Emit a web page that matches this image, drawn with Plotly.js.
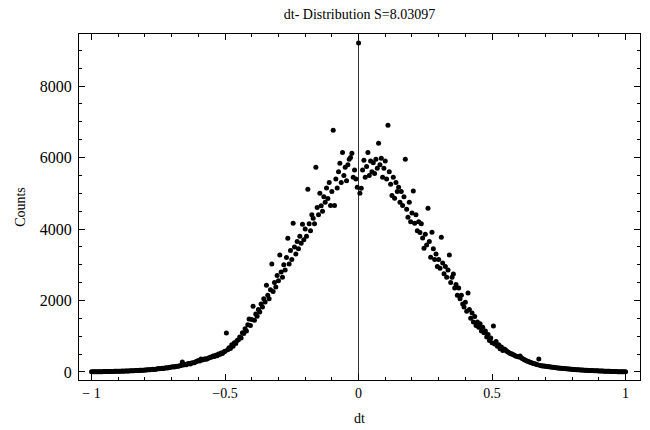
<!DOCTYPE html>
<html>
<head>
<meta charset="utf-8">
<script src="https://cdn.plot.ly/plotly-3.0.1.min.js"></script>
<style>html,body{margin:0;padding:0;background:#fff;}#chart{width:650px;height:430px;}</style>
</head>
<body>
<div id="chart"></div>
<script>
var dtBins = [
-1,-0.995,-0.99,-0.985,-0.98,-0.975,-0.97,-0.965,-0.96,-0.955,
-0.95,-0.945,-0.94,-0.935,-0.93,-0.925,-0.92,-0.915,-0.91,-0.905,
-0.9,-0.895,-0.89,-0.885,-0.88,-0.875,-0.87,-0.865,-0.86,-0.855,
-0.85,-0.845,-0.84,-0.835,-0.83,-0.825,-0.82,-0.815,-0.81,-0.805,
-0.8,-0.795,-0.79,-0.785,-0.78,-0.775,-0.77,-0.765,-0.76,-0.755,
-0.75,-0.745,-0.74,-0.735,-0.73,-0.725,-0.72,-0.715,-0.71,-0.705,
-0.7,-0.695,-0.69,-0.685,-0.68,-0.675,-0.67,-0.665,-0.66,-0.655,
-0.65,-0.645,-0.64,-0.635,-0.63,-0.625,-0.62,-0.615,-0.61,-0.605,
-0.6,-0.595,-0.59,-0.585,-0.58,-0.575,-0.57,-0.565,-0.56,-0.555,
-0.55,-0.545,-0.54,-0.535,-0.53,-0.525,-0.52,-0.515,-0.51,-0.505,
-0.5,-0.495,-0.49,-0.485,-0.48,-0.475,-0.47,-0.465,-0.46,-0.455,
-0.45,-0.445,-0.44,-0.435,-0.43,-0.425,-0.42,-0.415,-0.41,-0.405,
-0.4,-0.395,-0.39,-0.385,-0.38,-0.375,-0.37,-0.365,-0.36,-0.355,
-0.35,-0.345,-0.34,-0.335,-0.33,-0.325,-0.32,-0.315,-0.31,-0.305,
-0.3,-0.295,-0.29,-0.285,-0.28,-0.275,-0.27,-0.265,-0.26,-0.255,
-0.25,-0.245,-0.24,-0.235,-0.23,-0.225,-0.22,-0.215,-0.21,-0.205,
-0.2,-0.195,-0.19,-0.185,-0.18,-0.175,-0.17,-0.165,-0.16,-0.155,
-0.15,-0.145,-0.14,-0.135,-0.13,-0.125,-0.12,-0.115,-0.11,-0.105,
-0.1,-0.095,-0.09,-0.085,-0.08,-0.075,-0.07,-0.065,-0.06,-0.055,
-0.05,-0.045,-0.04,-0.035,-0.03,-0.025,-0.02,-0.015,-0.01,-0.005,
0,0.005,0.01,0.015,0.02,0.025,0.03,0.035,0.04,0.045,
0.05,0.055,0.06,0.065,0.07,0.075,0.08,0.085,0.09,0.095,
0.1,0.105,0.11,0.115,0.12,0.125,0.13,0.135,0.14,0.145,
0.15,0.155,0.16,0.165,0.17,0.175,0.18,0.185,0.19,0.195,
0.2,0.205,0.21,0.215,0.22,0.225,0.23,0.235,0.24,0.245,
0.25,0.255,0.26,0.265,0.27,0.275,0.28,0.285,0.29,0.295,
0.3,0.305,0.31,0.315,0.32,0.325,0.33,0.335,0.34,0.345,
0.35,0.355,0.36,0.365,0.37,0.375,0.38,0.385,0.39,0.395,
0.4,0.405,0.41,0.415,0.42,0.425,0.43,0.435,0.44,0.445,
0.45,0.455,0.46,0.465,0.47,0.475,0.48,0.485,0.49,0.495,
0.5,0.505,0.51,0.515,0.52,0.525,0.53,0.535,0.54,0.545,
0.55,0.555,0.56,0.565,0.57,0.575,0.58,0.585,0.59,0.595,
0.6,0.605,0.61,0.615,0.62,0.625,0.63,0.635,0.64,0.645,
0.65,0.655,0.66,0.665,0.67,0.675,0.68,0.685,0.69,0.695,
0.7,0.705,0.71,0.715,0.72,0.725,0.73,0.735,0.74,0.745,
0.75,0.755,0.76,0.765,0.77,0.775,0.78,0.785,0.79,0.795,
0.8,0.805,0.81,0.815,0.82,0.825,0.83,0.835,0.84,0.845,
0.85,0.855,0.86,0.865,0.87,0.875,0.88,0.885,0.89,0.895,
0.9,0.905,0.91,0.915,0.92,0.925,0.93,0.935,0.94,0.945,
0.95,0.955,0.96,0.965,0.97,0.975,0.98,0.985,0.99,0.995,
1
];

var dtCounts = [
5,6,4,7,8,6,9,8,10,11,
12,11,14,13,15,17,16,18,19,20,
20,22,21,25,24,27,28,30,31,33,
35,37,36,41,40,44,47,46,50,52,
55,58,61,60,66,68,74,72,80,86,
95,90,100,104,98,112,118,115,126,134,
140,146,138,155,162,158,175,182,280,195,
210,205,228,236,226,250,262,258,285,300,
320,310,360,335,350,372,358,380,395,410,
420,445,430,470,455,500,490,530,520,560,
580,1090,620,680,660,760,720,820,800,880,
900,980,950,1100,1080,1210,1150,1320,1480,1300,
1470,1840,1450,1620,1560,1750,1680,1900,1820,2050,
1960,2430,2150,2050,2300,3020,2250,2500,2380,2700,
2550,3270,2800,2650,3000,2850,3200,3740,3020,3400,
3150,4160,3500,3300,3650,3450,3800,3600,4130,3700,
4000,3800,5110,4150,3950,4400,4300,4150,5730,4600,
4400,5000,4650,4500,4900,4750,5150,4850,5300,4660,
5050,6760,4660,5400,5150,5600,5840,5300,6140,5500,
5730,5350,5800,5950,6000,6120,5450,5650,5400,5170,
9200,5000,5140,5650,5920,5450,5750,6140,5500,5900,
5600,5850,5550,5950,5700,6400,5800,5980,5450,5700,
5900,5400,6900,5600,5250,4940,5450,4860,5300,5050,
5170,4750,5050,4660,4900,5950,4550,4330,4750,4200,
4450,5060,4160,4400,3950,4200,3900,4150,3750,3460,
3850,3550,4580,3650,3210,3910,3450,3150,3300,2950,
3150,2900,3770,3050,2750,2950,2650,2850,3270,2500,
2650,2740,2350,2450,2150,2350,2050,2150,1900,1820,
1950,1700,2210,1750,1500,1650,1400,1550,1300,1400,
1250,1350,1150,1250,1100,1150,980,1050,880,950,
820,1290,780,850,720,760,650,700,600,640,
620,580,560,530,510,500,480,460,440,430,
420,450,390,370,350,330,310,300,280,265,
250,240,230,215,205,360,185,175,170,165,
160,155,150,145,140,136,130,126,120,115,
110,106,103,100,96,92,90,86,82,78,
75,72,70,66,64,60,58,56,53,52,
50,48,45,44,42,40,38,36,34,32,
30,28,27,25,24,22,21,19,18,16,
15,14,12,11,10,9,8,7,6,6,
5
];

var xTickVals = [-1, -0.5, 0, 0.5, 1];
var xTickText = ['\u2212 1', '\u22120.5', '0', '0.5', '1'];
var yTickVals = [0, 2000, 4000, 6000, 8000];
var yTickText = ['0', '2000', '4000', '6000', '8000'];

var serif = 'Liberation Serif';

var trace = {
  x: dtBins,
  y: dtCounts,
  type: 'scatter',
  mode: 'markers',
  marker: {color: '#000', size: 5, line: {width: 0}},
  hoverinfo: 'x+y',
  showlegend: false
};

var layout = {
  width: 650,
  height: 430,
  margin: {l: 79, r: 10, t: 34, b: 50, pad: 0},
  paper_bgcolor: '#fff',
  plot_bgcolor: '#fff',
  font: {family: serif, size: 14, color: '#000'},
  title: {text: 'dt- Distribution S=8.03097', font: {family: serif, size: 14, color: '#000'}, x: 0.5, xref: 'paper', y: 0.968, yref: 'container', yanchor: 'middle'},
  xaxis: {
    range: [-1.047, 1.054],
    tickmode: 'array', tickvals: xTickVals, ticktext: xTickText,
    ticks: 'inside', ticklen: 6, tickwidth: 1, tickcolor: '#000',
    minor: {ticks: 'inside', dtick: 0.1, tick0: 0, ticklen: 3, tickwidth: 1, tickcolor: '#000', showgrid: false},
    showline: true, linecolor: '#000', linewidth: 1, mirror: 'allticks',
    showgrid: false,
    zeroline: true, zerolinecolor: '#333', zerolinewidth: 1,
    title: {text: 'dt', font: {family: serif, size: 14, color: '#000'}, standoff: 13},
    tickfont: {family: serif, size: 14, color: '#000'}
  },
  yaxis: {
    range: [-224, 9455],
    tickmode: 'array', tickvals: yTickVals, ticktext: yTickText,
    ticks: 'inside', ticklen: 6, tickwidth: 1, tickcolor: '#000',
    minor: {ticks: 'inside', dtick: 500, tick0: 0, ticklen: 3, tickwidth: 1, tickcolor: '#000', showgrid: false},
    showline: true, linecolor: '#000', linewidth: 1, mirror: 'allticks',
    showgrid: false,
    zeroline: false,
    ticklabelstandoff: 3,
    title: {text: 'Counts', font: {family: serif, size: 14, color: '#000'}, standoff: 10},
    tickfont: {family: serif, size: 16, color: '#000'}
  }
};

Plotly.newPlot('chart', [trace], layout, {staticPlot: true, displayModeBar: false});
</script>
</body>
</html>
